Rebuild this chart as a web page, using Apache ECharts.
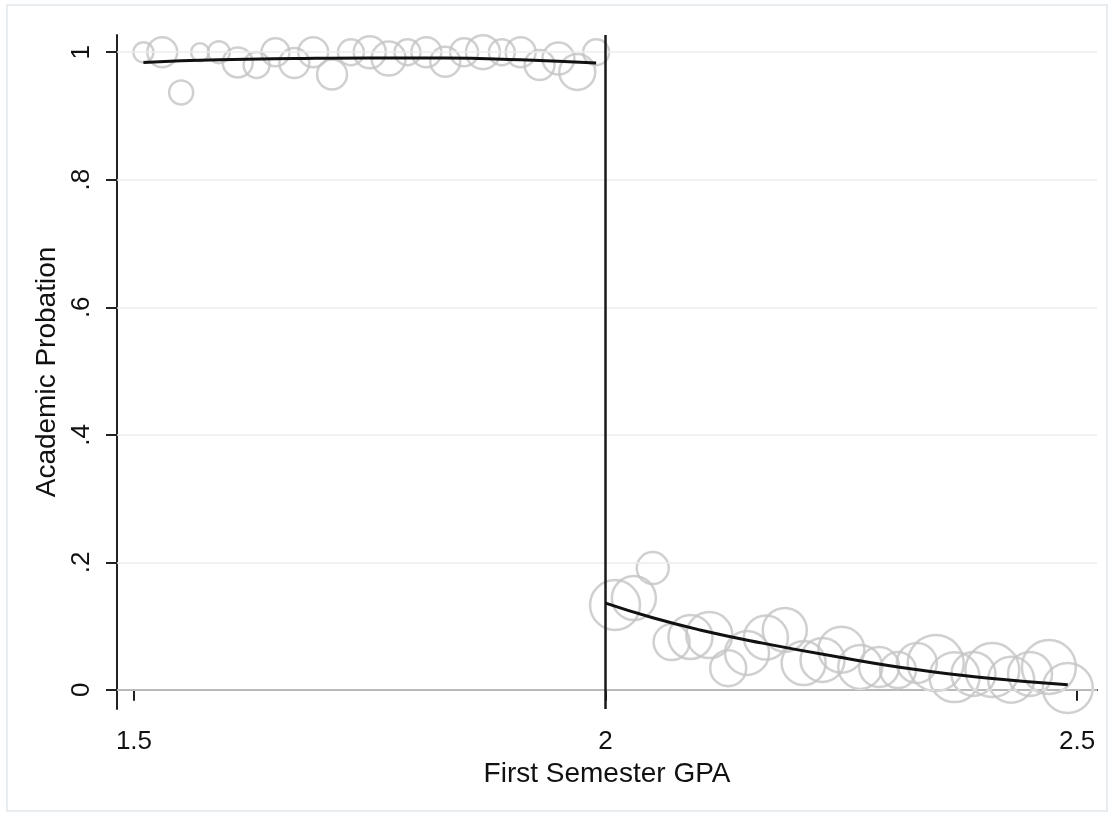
<!DOCTYPE html>
<html>
<head>
<meta charset="utf-8">
<title>Academic Probation by First Semester GPA</title>
<script src="https://cdn.jsdelivr.net/npm/echarts@6/dist/echarts.min.js"></script>
<style>
  html, body { margin: 0; padding: 0; background: #fff; }
  #chart { width: 1112px; height: 814px; }
</style>
</head>
<body>
<div id="chart"></div>
<script>
// binned means below the cutoff (GPA < 2)
const leftGpa = [1.51, 1.53, 1.55, 1.57, 1.59, 1.61, 1.63, 1.65, 1.67, 1.69, 1.71, 1.73, 1.75,
  1.77, 1.79, 1.81, 1.83, 1.85, 1.87, 1.89, 1.91, 1.93, 1.95, 1.97, 1.99]
const leftRate = [1.0, 1.0, 0.937, 1.0, 1.0, 0.984, 0.98, 1.0, 0.983, 1.0, 0.965, 1.0, 1.0,
  0.99, 1.0, 1.0, 0.985, 1.0, 1.0, 1.0, 1.0, 0.98, 0.99, 0.969, 1.0]
const leftCount = [25, 56, 36, 20, 30, 56, 42, 49, 56, 56, 56, 42, 64,
  72, 42, 56, 56, 49, 72, 42, 56, 56, 64, 81, 42]

// binned means above the cutoff
const rightGpa = [2.01, 2.03, 2.05, 2.07, 2.09, 2.11, 2.13, 2.15, 2.17, 2.19, 2.21, 2.23, 2.25,
  2.27, 2.29, 2.31, 2.33, 2.35, 2.37, 2.39, 2.41, 2.43, 2.45, 2.47, 2.49]
const rightRate = [0.133, 0.144, 0.191, 0.075, 0.083, 0.086, 0.034, 0.058, 0.082, 0.094, 0.042, 0.047, 0.063,
  0.036, 0.036, 0.031, 0.042, 0.042, 0.02, 0.025, 0.031, 0.016, 0.025, 0.036, 0.003]
const rightCount = [156, 121, 64, 81, 121, 132, 81, 121, 121, 121, 121, 121, 132,
  121, 100, 81, 100, 196, 156, 121, 182, 132, 121, 182, 156]

// fitted curves on each side
const leftFitX = [1.51, 1.59, 1.67, 1.75, 1.83, 1.91, 1.99]
const leftFitY = [0.984, 0.988, 0.990, 0.991, 0.991, 0.988, 0.983]
const rightFitX = [2.0, 2.05, 2.1, 2.164, 2.241, 2.333, 2.41, 2.49]
const rightFitY = [0.136, 0.113, 0.094, 0.074, 0.053, 0.031, 0.018, 0.008]

const cutoff = 2
const xTicks = [1.5, 2, 2.5]
const yTicks = [0, 0.2, 0.4, 0.6, 0.8, 1]

function zip (xs, ys, ns) {
  return xs.map((x, i) => ns ? [x, ys[i], ns[i]] : [x, ys[i]])
}
function yLabel (v) {
  if (v === 0) return '0'
  if (v === 1) return '1'
  return String(Math.round(v * 10) / 10).replace(/^0/, '')
}

const font = "'Liberation Sans', Arial, sans-serif"
const circleStyle = { color: 'transparent', borderColor: '#c4c4c4', borderWidth: 2.5 }

const chart = echarts.init(document.getElementById('chart'))
chart.setOption({
  animation: false,
  backgroundColor: '#fff',
  graphic: [{
    type: 'rect',
    shape: { x: 7, y: 5, width: 1100, height: 806 },
    style: { fill: 'none', stroke: '#e7edf0', lineWidth: 2 },
    silent: true
  }],
  grid: { left: 117, top: 35, right: 15, bottom: 105 },
  xAxis: {
    type: 'value',
    min: 1.482,
    max: 2.521,
    name: 'First Semester GPA',
    nameLocation: 'middle',
    nameGap: 50,
    nameTextStyle: { fontFamily: font, fontSize: 28, color: '#111' },
    axisLine: { lineStyle: { color: '#222', width: 2 } },
    axisTick: { show: true, length: 11, customValues: xTicks, lineStyle: { color: '#222', width: 2 } },
    axisLabel: {
      customValues: xTicks,
      margin: 20,
      fontFamily: font,
      fontSize: 26,
      color: '#111',
      formatter: v => String(v)
    },
    splitLine: { show: false }
  },
  yAxis: {
    type: 'value',
    min: -0.03,
    max: 1.027,
    name: 'Academic Probation',
    nameLocation: 'middle',
    nameGap: 49,
    nameTextStyle: { fontFamily: font, fontSize: 28, color: '#111' },
    axisLine: { show: true, lineStyle: { color: '#222', width: 2 } },
    axisTick: { show: true, length: 11, customValues: yTicks, lineStyle: { color: '#222', width: 2 } },
    axisLabel: {
      customValues: yTicks,
      rotate: 90,
      margin: 22,
      fontFamily: font,
      fontSize: 26,
      color: '#111',
      formatter: yLabel
    },
    splitLine: { show: false }
  },
  series: [
    {
      name: 'grid',
      type: 'line',
      data: [],
      silent: true,
      markLine: {
        silent: true,
        symbol: 'none',
        label: { show: false },
        lineStyle: { color: '#ececec', width: 1.5, type: 'solid' },
        data: yTicks.map(v => ({ yAxis: v }))
      }
    },
    {
      name: 'below',
      type: 'scatter',
      data: zip(leftGpa, leftRate, leftCount),
      symbolSize: d => 4 * Math.sqrt(d[2]),
      itemStyle: circleStyle,
      clip: false
    },
    {
      name: 'above',
      type: 'scatter',
      data: zip(rightGpa, rightRate, rightCount),
      symbolSize: d => 4 * Math.sqrt(d[2]),
      itemStyle: circleStyle,
      clip: false
    },
    {
      name: 'fit below',
      type: 'line',
      data: zip(leftFitX, leftFitY),
      smooth: true,
      showSymbol: false,
      lineStyle: { color: '#111', width: 3 },
      z: 5
    },
    {
      name: 'fit above',
      type: 'line',
      data: zip(rightFitX, rightFitY),
      smooth: true,
      showSymbol: false,
      lineStyle: { color: '#111', width: 3 },
      z: 5,
      markLine: {
        silent: true,
        symbol: 'none',
        label: { show: false },
        lineStyle: { color: '#1a1a1a', width: 2.5, type: 'solid' },
        data: [{ xAxis: cutoff }]
      }
    }
  ]
})
</script>
</body>
</html>
